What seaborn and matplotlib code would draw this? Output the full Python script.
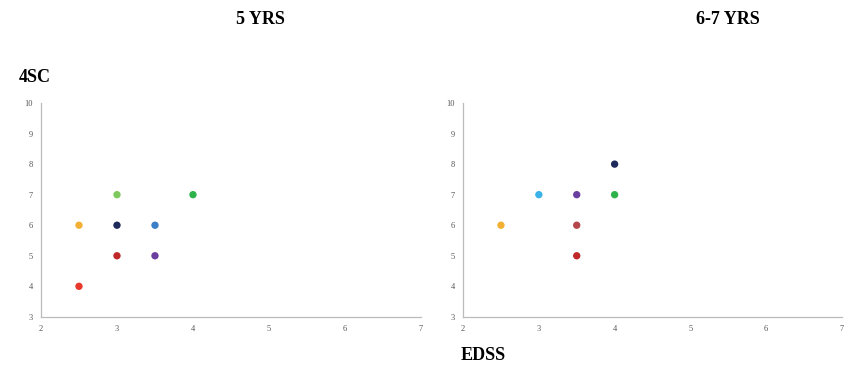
import matplotlib
matplotlib.use('Agg')
import matplotlib.pyplot as plt
import seaborn as sns
import pandas as pd

# 5 YRS panel
edss_5 = [2.5, 2.5, 3, 3, 3, 3.5, 3.5, 4]
sc_5 = [6, 4, 7, 6, 5, 6, 5, 7]
colors_5 = ['#F2B134', '#E8382B', '#7DC95E', '#1F2A5C', '#C0282A', '#3A7FC8', '#6B3FA0', '#2DB34A']

# 6-7 YRS panel
edss_67 = [2.5, 3, 3.5, 3.5, 3.5, 4, 4]
sc_67 = [6, 7, 7, 6, 5, 8, 7]
colors_67 = ['#F2B134', '#3BB2E8', '#6B3FA0', '#B5474A', '#C0282A', '#1F2A5C', '#2DB34A']

x_ticks = [2, 3, 4, 5, 6, 7]
y_ticks = [3, 4, 5, 6, 7, 8, 9, 10]

sns.set_style('white')
plt.rcParams['font.family'] = ['Liberation Serif', 'DejaVu Serif']

fig = plt.figure(figsize=(8.45, 3.68), dpi=100)
ax1 = fig.add_axes([0.0485, 0.139, 0.4497, 0.581])
ax2 = fig.add_axes([0.548, 0.139, 0.4484, 0.581])


def draw_panel(ax, xs, ys, cols):
    df = pd.DataFrame({'EDSS': xs, '4SC': ys, 'id': range(len(xs))})
    sns.scatterplot(data=df, x='EDSS', y='4SC', hue='id', palette=cols,
                    s=28, edgecolor='none', legend=False, ax=ax)
    ax.set_xlim(2, 7)
    ax.set_ylim(3, 10)
    ax.set_xticks(x_ticks)
    ax.set_yticks(y_ticks)
    ax.tick_params(axis='both', labelsize=6, colors='#555555', length=0, pad=6)
    ax.set_xlabel('')
    ax.set_ylabel('')
    for side in ['top', 'right']:
        ax.spines[side].set_visible(False)
    for side in ['left', 'bottom']:
        ax.spines[side].set_color('#bbbbbb')
        ax.spines[side].set_linewidth(0.9)


draw_panel(ax1, edss_5, sc_5, colors_5)
draw_panel(ax2, edss_67, sc_67, colors_67)

fig.text(260 / 845, 1 - 20 / 368, '5 YRS', ha='center', va='center',
         fontsize=13, fontweight='bold', color='black')
fig.text(728 / 845, 1 - 20 / 368, '6-7 YRS', ha='center', va='center',
         fontsize=13, fontweight='bold', color='black')
fig.text(35 / 845, 1 - 78 / 368, '4SC', ha='center', va='center',
         fontsize=13, fontweight='bold', color='black')
fig.text(483 / 845, 1 - 355 / 368, 'EDSS', ha='center', va='center',
         fontsize=13, fontweight='bold', color='black')

fig.savefig('out.png', dpi=100)
